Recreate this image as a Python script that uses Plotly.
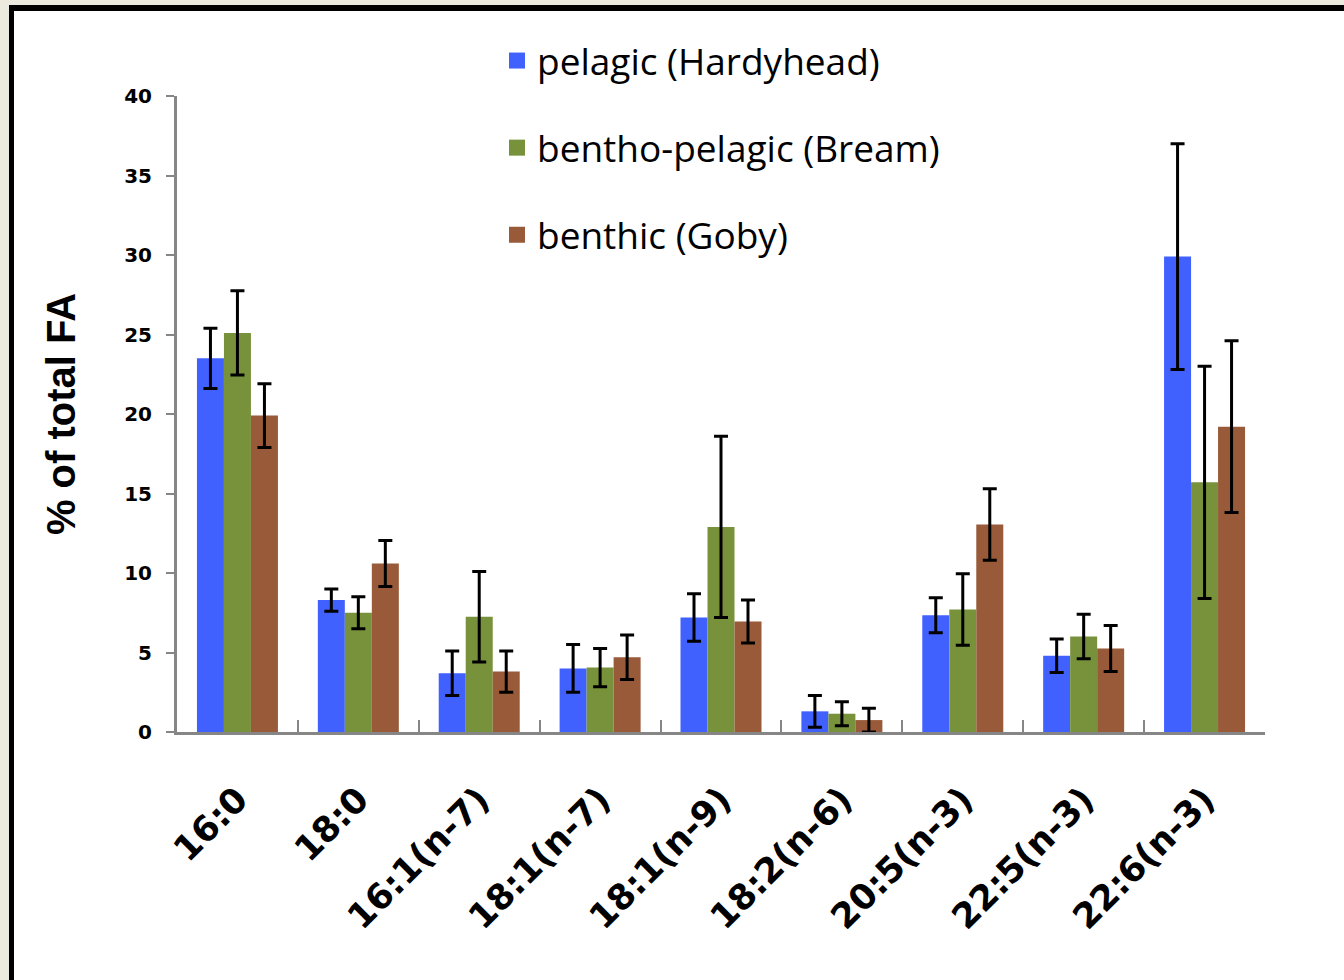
import plotly.graph_objects as go

categories = ["16:0", "18:0", "16:1(n-7)", "18:1(n-7)", "18:1(n-9)", "18:2(n-6)", "20:5(n-3)", "22:5(n-3)", "22:6(n-3)"]
series_names = ["pelagic (Hardyhead)", "bentho-pelagic (Bream)", "benthic (Goby)"]
pelagic = [23.5, 8.3, 3.7, 4.0, 7.2, 1.3, 7.35, 4.8, 29.9]
pelagic_err = [1.9, 0.7, 1.4, 1.5, 1.5, 1.0, 1.1, 1.05, 7.1]
bentho = [25.1, 7.5, 7.25, 4.05, 12.9, 1.15, 7.7, 6.0, 15.7]
bentho_err = [2.65, 1.0, 2.85, 1.2, 5.7, 0.75, 2.25, 1.4, 7.3]
benthic = [19.9, 10.6, 3.8, 4.7, 6.95, 0.75, 13.05, 5.25, 19.2]
benthic_err = [2.0, 1.45, 1.3, 1.4, 1.35, 0.75, 2.25, 1.45, 5.4]
colors = ["#4161FF", "#77923B", "#985A38"]
y_ticks = [0, 5, 10, 15, 20, 25, 30, 35, 40]

W, H = 1344, 980
L, R, T, B = 177, 1265, 96, 732

def px_x(p):
    return (p - L) / (R - L)

def px_y(p):
    return (B - p) / (B - T)

fig = go.Figure()
for name, vals, errs, col in zip(series_names, [pelagic, bentho, benthic],
                                 [pelagic_err, bentho_err, benthic_err], colors):
    fig.add_trace(go.Bar(
        x=categories, y=vals, name=name, marker=dict(color=col, line=dict(width=0)),
        error_y=dict(type="data", array=errs, visible=True, color="black", thickness=3, width=7),
        showlegend=False,
    ))
for i, (name, col) in enumerate(zip(series_names, colors)):
    fig.add_trace(go.Scatter(
        x=[None], y=[None], mode="markers", name=name,
        marker=dict(symbol="square", size=22, color=col),
        legendgroup=str(i), showlegend=True,
    ))

shapes = [
    dict(type="rect", xref="paper", yref="paper", x0=px_x(0), x1=px_x(9), y0=px_y(0), y1=px_y(H),
         fillcolor="#ECE9DF", line=dict(width=0), layer="below"),
    dict(type="rect", xref="paper", yref="paper", x0=px_x(0), x1=px_x(W), y0=px_y(0), y1=px_y(5),
         fillcolor="#ECE9DF", line=dict(width=0), layer="below"),
    dict(type="rect", xref="paper", yref="paper", x0=px_x(9), x1=px_x(14), y0=px_y(5), y1=px_y(H),
         fillcolor="black", line=dict(width=0), layer="below"),
    dict(type="rect", xref="paper", yref="paper", x0=px_x(9), x1=px_x(W), y0=px_y(5), y1=px_y(11),
         fillcolor="black", line=dict(width=0), layer="below"),
]

fig.update_layout(
    width=W, height=H,
    margin=dict(l=L, r=W - R, t=T, b=H - B),
    paper_bgcolor="white", plot_bgcolor="white",
    barmode="group", bargap=0.33, bargroupgap=0,
    shapes=shapes,
    showlegend=True,
    legend=dict(
        x=px_x(497), y=px_y(30), xanchor="left", yanchor="top",
        font=dict(family="Open Sans", size=37, color="black"),
        traceorder="grouped", tracegroupgap=36, bgcolor="rgba(0,0,0,0)",
        itemwidth=30,
    ),
    xaxis=dict(
        type="category", showline=True, linecolor="#868686", linewidth=3,
        ticks="inside", tickson="boundaries", ticklen=12, tickwidth=2, tickcolor="#868686",
        tickangle=-45, tickfont=dict(family="DejaVu Sans", size=35, color="black"),
        ticklabelstandoff=30,
        showgrid=False, zeroline=False,
    ),
    yaxis=dict(
        range=[0, 40], tickvals=y_ticks, ticktext=[f"<b>{v}</b>" for v in y_ticks],
        showline=True, linecolor="#868686", linewidth=3,
        ticks="outside", ticklen=8, tickwidth=2, tickcolor="#868686",
        tickfont=dict(family="DejaVu Sans", size=20, color="black"),
        ticklabelstandoff=10,
        showgrid=False, zeroline=False,
        title=dict(text="<b>% of total FA</b>", font=dict(family="Liberation Sans", size=40, color="black"), standoff=37),
    ),
)
fig.update_xaxes(ticktext=[f"<b>{c}</b>" for c in categories], tickvals=categories)

fig.write_html("out.html")
